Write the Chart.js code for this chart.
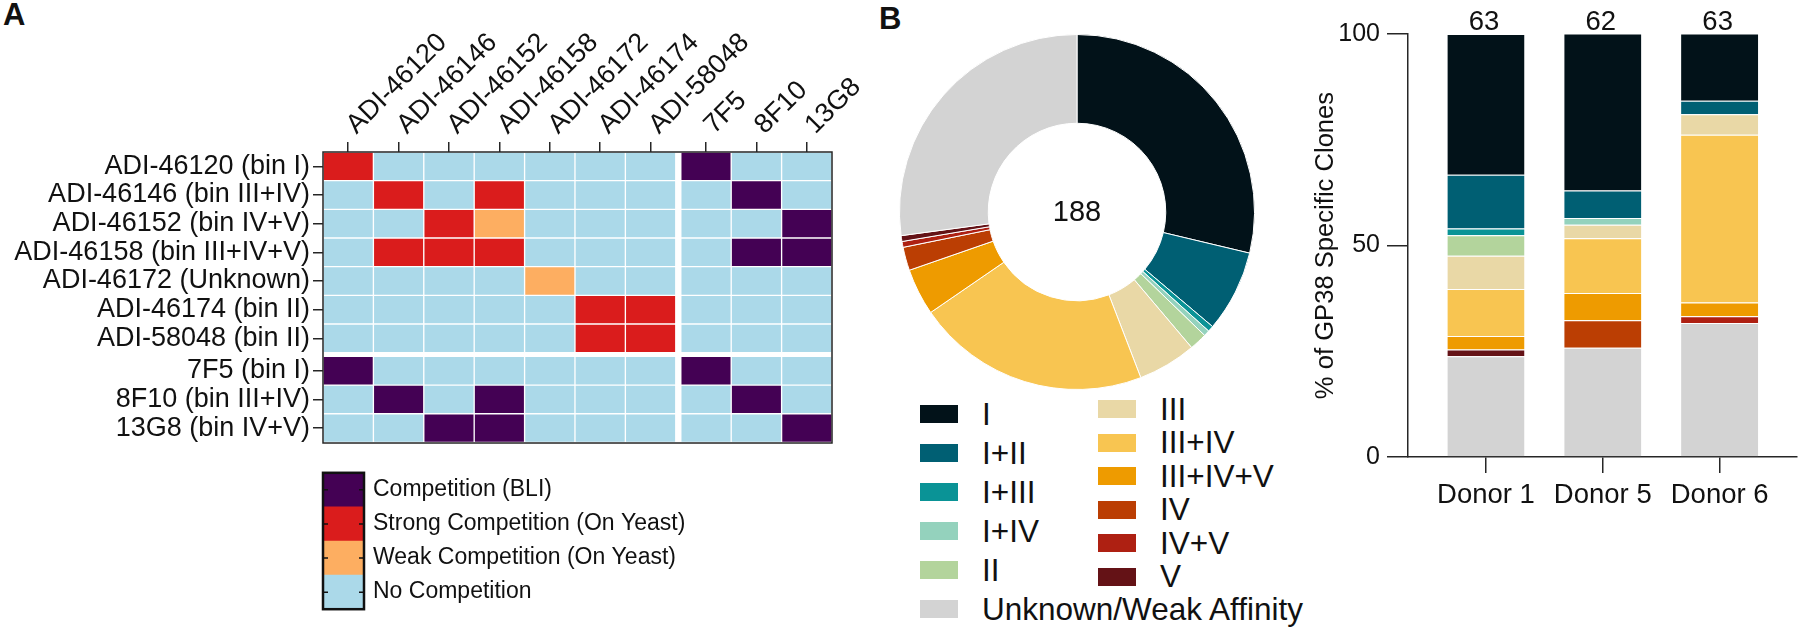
<!DOCTYPE html>
<html>
<head>
<meta charset="utf-8">
<title>GP38 antibody competition and epitope bins</title>
<script src="https://cdn.jsdelivr.net/npm/chart.js@4.4.1/dist/chart.umd.min.js"></script>
<style>
  html, body { margin: 0; padding: 0; background: #fff; }
  body { width: 1800px; height: 632px; position: relative; overflow: hidden;
         font-family: "Liberation Sans", Arial, sans-serif; color: #111; }
  canvas { position: absolute; }
  .panel-label { position: absolute; font-weight: bold; font-size: 31px; line-height: 1; }
  .legend-item { position: absolute; display: flex; align-items: center; height: 30px;
                 font-size: 31.5px; white-space: nowrap; }
  .legend-item .swatch { display: inline-block; width: 38px; height: 18px; margin-right: 24px; }
</style>
</head>
<body>
<div class="panel-label" style="left:3px; top:-1px;">A</div>
<div class="panel-label" style="left:879px; top:3px;">B</div>
<canvas id="heat-chart" width="860" height="450" style="left:0; top:0;"></canvas>
<canvas id="scale-chart" width="380" height="182" style="left:310px; top:450px;"></canvas>
<canvas id="donut-chart" width="356" height="356" style="left:899px; top:34px;"></canvas>
<div id="donut-legend"></div>
<canvas id="bar-chart" width="510" height="632" style="left:1290px; top:0;"></canvas>

<script>
// Panel A data
const heatCols = ['ADI-46120', 'ADI-46146', 'ADI-46152', 'ADI-46158', 'ADI-46172',
                  'ADI-46174', 'ADI-58048', '7F5', '8F10', '13G8'];
const heatRows = ['ADI-46120 (bin I)', 'ADI-46146 (bin III+IV)', 'ADI-46152 (bin IV+V)',
                  'ADI-46158 (bin III+IV+V)', 'ADI-46172 (Unknown)', 'ADI-46174 (bin II)',
                  'ADI-58048 (bin II)', '7F5 (bin I)', '8F10 (bin III+IV)', '13G8 (bin IV+V)'];
// one letter per column: B = BLI, S = strong, W = weak, - = none
const competition = [
    'S------B--',
    '-S-S----B-',
    '--SW-----B',
    '-SSS----BB',
    '----W-----',
    '-----SS---',
    '-----SS---',
    'B------B--',
    '-B-B----B-',
    '--BB-----B'
];
const levelCodes = ['B', 'S', 'W', '-'];
const compLevels = ['Competition (BLI)', 'Strong Competition (On Yeast)',
                    'Weak Competition (On Yeast)', 'No Competition'];
const compColors = ['#440154', '#da1c1c', '#fdae61', '#abd9e9'];

// Panel B data
const bins = ['I', 'I+II', 'I+III', 'I+IV', 'II', 'III', 'III+IV', 'III+IV+V',
              'IV', 'IV+V', 'V', 'Unknown/Weak Affinity'];
const binColors = ['#021219', '#005f73', '#0a9396', '#94d2bd', '#b3d49c', '#e9d8a6',
                   '#f8c551', '#ee9b00', '#bb3e03', '#ae2012', '#641216', '#d3d3d3'];
const donutCounts = [54, 14, 1, 1, 3, 10, 40, 8, 4, 1, 1, 51];
const cloneTotal = 188;

const donors = ['Donor 1', 'Donor 5', 'Donor 6'];
const donorTotals = [63, 62, 63];
const donor1Pct = [33.3, 12.7, 1.6, 0, 4.8, 7.9, 11.1, 3.2, 0, 0, 1.6, 23.8];
const donor5Pct = [37.1, 6.5, 0, 1.6, 0, 3.2, 12.9, 6.5, 6.5, 0, 0, 25.8];
const donor6Pct = [15.9, 3.2, 0, 0, 0, 4.8, 39.7, 3.2, 0, 1.6, 0, 31.7];
const yTicks = [0, 50, 100];

const FONT = '"Liberation Sans", Arial, sans-serif';
const AXIS = '#262626';
Chart.defaults.font.family = FONT;
Chart.defaults.color = '#111';

// Draw a box round the plot area
const framePlugin = {
    id: 'frame',
    afterDatasetsDraw(chart, args, opts) {
        const { ctx, chartArea: a } = chart;
        ctx.save();
        ctx.strokeStyle = opts.color;
        ctx.lineWidth = opts.width;
        ctx.strokeRect(a.left, a.top, a.right - a.left, a.bottom - a.top);
        ctx.restore();
    }
};

// Heatmap of competition results
function initHeatChart() {
    // columns and rows after the 7th get a small gap
    const colPos = heatCols.map((c, i) => i < 7 ? i : i + 0.1);
    const rowPos = heatRows.map((r, i) => i < 7 ? i : i + 0.13);

    const datasets = levelCodes.map((code, k) => {
        const cells = [];
        competition.forEach((row, i) => {
            row.split('').forEach((c, j) => {
                if (c === code) cells.push({ x: colPos[j], y: [rowPos[i] - 0.5, rowPos[i] + 0.5] });
            });
        });
        return {
            label: compLevels[k],
            data: cells,
            backgroundColor: compColors[k],
            borderColor: '#ffffff',
            borderWidth: 1,
            borderSkipped: false,
            grouped: false,
            barPercentage: 1,
            categoryPercentage: 1
        };
    });

    new Chart(document.getElementById('heat-chart'), {
        type: 'bar',
        data: { datasets },
        options: {
            responsive: false,
            animation: false,
            devicePixelRatio: 1,
            layout: { padding: { left: 0, top: 0, right: 28, bottom: 7 } },
            plugins: {
                legend: { display: false },
                tooltip: { enabled: false },
                frame: { color: AXIS, width: 1.5 }
            },
            scales: {
                x: {
                    type: 'linear', position: 'top', min: -0.5, max: 9.6, offset: false,
                    afterBuildTicks: s => { s.ticks = colPos.map(v => ({ value: v })); },
                    afterFit: s => { s.height = 152; s.paddingLeft = 0; s.paddingRight = 0; },
                    ticks: {
                        autoSkip: false, minRotation: 45, maxRotation: 45, padding: 1,
                        labelOffset: 26, color: '#111', font: { size: 27 },
                        callback: (v, i) => heatCols[i]
                    },
                    grid: { offset: false, drawOnChartArea: false, tickLength: 10, color: AXIS, lineWidth: 1.5 },
                    border: { display: false }
                },
                y: {
                    type: 'linear', position: 'left', reverse: true, min: -0.5, max: 9.65,
                    afterBuildTicks: s => { s.ticks = rowPos.map(v => ({ value: v })); },
                    afterFit: s => { s.width = 323; s.paddingTop = 0; s.paddingBottom = 0; },
                    ticks: {
                        autoSkip: false, padding: 3, color: '#111', font: { size: 27 },
                        callback: (v, i) => heatRows[i]
                    },
                    grid: { offset: false, drawOnChartArea: false, tickLength: 10, color: AXIS, lineWidth: 1.5 },
                    border: { display: false }
                }
            }
        },
        plugins: [framePlugin]
    });
}

// Colour key under the heatmap
function initScaleChart() {
    const innerTicks = {
        id: 'innerTicks',
        afterDatasetsDraw(chart) {
            const { ctx, chartArea: a } = chart;
            const ys = chart.scales.y;
            ctx.save();
            ctx.strokeStyle = '#111';
            ctx.lineWidth = 1.5;
            compLevels.forEach((l, i) => {
                const y = ys.getPixelForTick(i);
                ctx.beginPath();
                ctx.moveTo(a.left, y); ctx.lineTo(a.left + 5, y);
                ctx.moveTo(a.right - 5, y); ctx.lineTo(a.right, y);
                ctx.stroke();
            });
            ctx.restore();
        }
    };

    new Chart(document.getElementById('scale-chart'), {
        type: 'bar',
        data: {
            labels: compLevels,
            datasets: [{
                data: compLevels.map(() => 1),
                backgroundColor: compColors,
                borderWidth: 0,
                barPercentage: 1,
                categoryPercentage: 1
            }]
        },
        options: {
            indexAxis: 'y',
            responsive: false,
            animation: false,
            devicePixelRatio: 1,
            layout: { padding: { left: 13, top: 7, right: 0, bottom: 5 } },
            plugins: {
                legend: { display: false },
                tooltip: { enabled: false },
                frame: { color: '#111', width: 2.5 }
            },
            scales: {
                x: { display: false, min: 0, max: 1 },
                y: {
                    position: 'right',
                    afterFit: s => { s.width = 326; },
                    ticks: { padding: 9, color: '#111', font: { size: 23 } },
                    grid: { drawOnChartArea: false, drawTicks: false },
                    border: { display: false }
                }
            }
        },
        plugins: [framePlugin, innerTicks]
    });
}

// Donut of all clones by bin
function initDonutChart() {
    const centerText = {
        id: 'centerText',
        afterDraw(chart) {
            const { ctx, chartArea: a } = chart;
            ctx.save();
            ctx.font = '29px ' + FONT;
            ctx.fillStyle = '#111';
            ctx.textAlign = 'center';
            ctx.textBaseline = 'middle';
            ctx.fillText(String(cloneTotal), (a.left + a.right) / 2, (a.top + a.bottom) / 2 + 1);
            ctx.restore();
        }
    };

    new Chart(document.getElementById('donut-chart'), {
        type: 'doughnut',
        data: {
            labels: bins,
            datasets: [{
                data: donutCounts,
                backgroundColor: binColors,
                borderColor: '#ffffff',
                borderWidth: 1
            }]
        },
        options: {
            responsive: false,
            animation: false,
            devicePixelRatio: 1,
            cutout: '50%',
            plugins: { legend: { display: false }, tooltip: { enabled: false } }
        },
        plugins: [centerText]
    });

    // two-column legend below the donut
    const legend = document.getElementById('donut-legend');
    const columns = [
        { items: [0, 1, 2, 3, 4, 11], left: 920, first: 414, step: 39 },
        { items: [5, 6, 7, 8, 9, 10], left: 1098, first: 409, step: 33.5 }
    ];
    columns.forEach(col => {
        col.items.forEach((b, r) => {
            const div = document.createElement('div');
            div.className = 'legend-item';
            div.style.left = col.left + 'px';
            div.style.top = (col.first + r * col.step - 15) + 'px';
            div.innerHTML = `<span class="swatch" style="background:${binColors[b]}"></span><span>${bins[b]}</span>`;
            legend.appendChild(div);
        });
    });
}

// Stacked bars per donor
function initBarChart() {
    const donorPct = [donor1Pct, donor5Pct, donor6Pct];
    const xPos = donors.map((d, i) => i + 1);

    // bottom of the stack first
    const datasets = bins.map((b, k) => ({
        label: b,
        stack: 'all',
        data: donorPct.map((arr, d) => ({ x: xPos[d], y: arr[k] })),
        backgroundColor: binColors[k],
        borderColor: 'rgba(255,255,255,0.85)',
        borderWidth: { top: 1, bottom: 0, left: 0, right: 0 },
        borderSkipped: false,
        barPercentage: 0.66,
        categoryPercentage: 1
    })).reverse();

    const totalsLabels = {
        id: 'totalsLabels',
        afterDatasetsDraw(chart) {
            const { ctx } = chart;
            const xs = chart.scales.x, ys = chart.scales.y;
            ctx.save();
            ctx.font = '27.5px ' + FONT;
            ctx.fillStyle = '#111';
            ctx.textAlign = 'center';
            ctx.textBaseline = 'alphabetic';
            donorTotals.forEach((t, i) => {
                ctx.fillText(String(t), xs.getPixelForValue(xPos[i]) - 2, ys.getPixelForValue(100) - 4);
            });
            ctx.restore();
        }
    };

    new Chart(document.getElementById('bar-chart'), {
        type: 'bar',
        data: { datasets },
        options: {
            responsive: false,
            animation: false,
            devicePixelRatio: 1,
            layout: { padding: { left: 0, top: 34, right: 3, bottom: 0 } },
            plugins: { legend: { display: false }, tooltip: { enabled: false } },
            scales: {
                x: {
                    type: 'linear', min: 0.333, max: 3.662, offset: false,
                    afterBuildTicks: s => { s.ticks = xPos.map(v => ({ value: v })); },
                    afterFit: s => { s.height = 175; s.paddingLeft = 0; s.paddingRight = 0; },
                    ticks: { autoSkip: false, padding: 6, color: '#111', font: { size: 27.5 },
                             callback: (v, i) => donors[i] },
                    grid: { offset: false, drawOnChartArea: false, tickLength: 16, color: AXIS, lineWidth: 1.5 },
                    border: { color: AXIS, width: 1.5 }
                },
                y: {
                    type: 'linear', stacked: true, min: 0, max: 100,
                    afterBuildTicks: s => { s.ticks = yTicks.map(v => ({ value: v })); },
                    afterFit: s => { s.width = 118; },
                    ticks: { padding: 7, color: '#111', font: { size: 25 } },
                    grid: { drawOnChartArea: false, tickLength: 21, color: AXIS, lineWidth: 1.5 },
                    border: { color: AXIS, width: 1.5 },
                    title: {
                        display: true, text: '% of GP38 Specific Clones', color: '#111',
                        font: { size: 25.6 }, padding: { top: 21, bottom: 0 }
                    }
                }
            }
        },
        plugins: [totalsLabels]
    });
}

initHeatChart();
initScaleChart();
initDonutChart();
initBarChart();
</script>
</body>
</html>
